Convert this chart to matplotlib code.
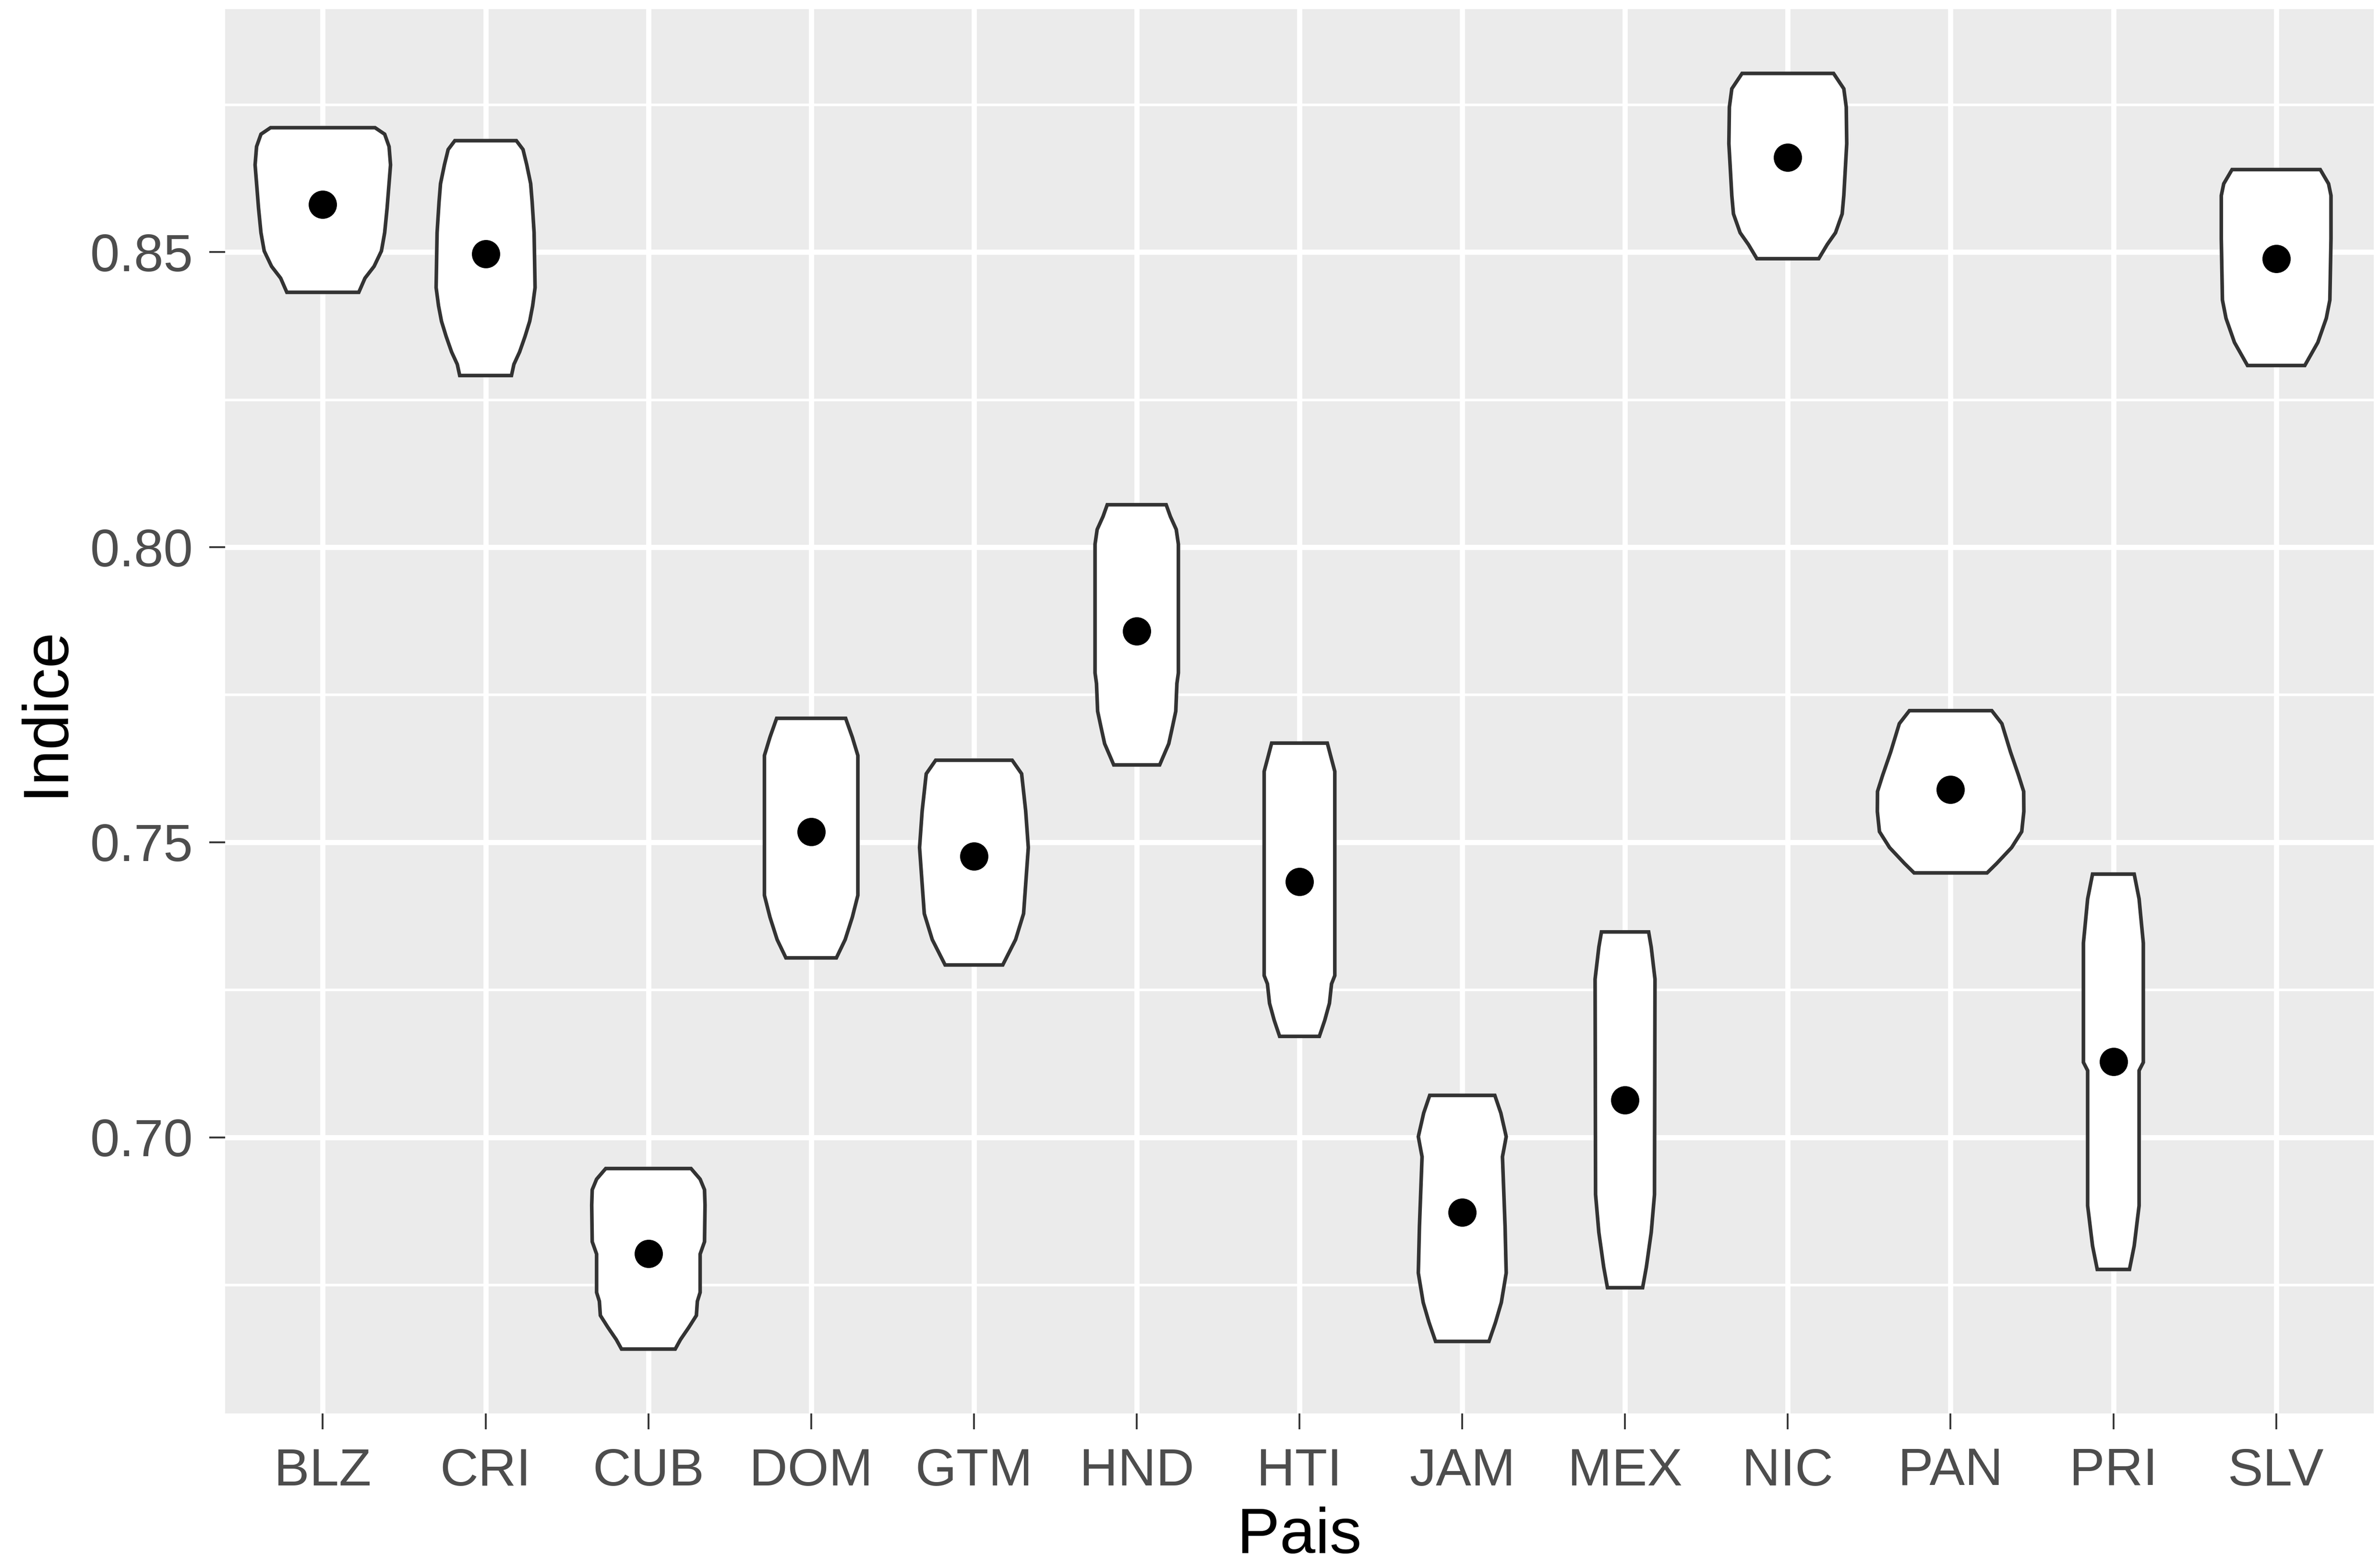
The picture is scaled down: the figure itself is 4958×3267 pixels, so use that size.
import matplotlib.pyplot as plt
from matplotlib.ticker import MultipleLocator

# Paises y valor medio del indice (punto negro)
paises = ['BLZ', 'CRI', 'CUB', 'DOM', 'GTM', 'HND', 'HTI', 'JAM', 'MEX', 'NIC', 'PAN', 'PRI', 'SLV']
medias = [0.8581, 0.8497, 0.6803, 0.7518, 0.7476, 0.7858, 0.7433, 0.6873, 0.7063, 0.8661, 0.7589, 0.7128, 0.8489]

# Contorno de cada violin: niveles del indice (de abajo hacia arriba) y semiancho en unidades de categoria
perfil_y = [
    [0.8432, 0.8456, 0.8476, 0.8502, 0.8533, 0.8575, 0.8648, 0.8679, 0.8700, 0.8711],
    [0.8291, 0.8310, 0.8331, 0.8357, 0.8383, 0.8409, 0.8440, 0.8533, 0.8585, 0.8616, 0.8648, 0.8674, 0.8689],
    [0.6641, 0.6657, 0.6678, 0.6698, 0.6722, 0.6737, 0.6802, 0.6823, 0.6885, 0.6911, 0.6929, 0.6947],
    [0.7304, 0.7335, 0.7373, 0.7410, 0.7647, 0.7678, 0.7710],
    [0.7292, 0.7335, 0.7379, 0.7429, 0.7491, 0.7553, 0.7616, 0.7639],
    [0.7631, 0.7642, 0.7667, 0.7696, 0.7722, 0.7769, 0.7787, 0.8005, 0.8030, 0.8052, 0.8072],
    [0.7171, 0.7198, 0.7227, 0.7260, 0.7274, 0.7620, 0.7647, 0.7668],
    [0.6654, 0.6686, 0.6720, 0.6770, 0.6849, 0.6967, 0.7001, 0.7041, 0.7071],
    [0.6745, 0.6780, 0.6839, 0.6903, 0.7268, 0.7322, 0.7348],
    [0.8489, 0.8513, 0.8533, 0.8565, 0.8596, 0.8684, 0.8746, 0.8777, 0.8803],
    [0.7448, 0.7464, 0.7491, 0.7518, 0.7552, 0.7586, 0.7613, 0.7653, 0.7701, 0.7723],
    [0.6776, 0.6816, 0.6884, 0.7113, 0.7127, 0.7329, 0.7404, 0.7446],
    [0.8308, 0.8347, 0.8388, 0.8419, 0.8523, 0.8596, 0.8616, 0.8640],
]
perfil_ancho = [
    [0.221, 0.259, 0.315, 0.360, 0.380, 0.395, 0.416, 0.407, 0.380, 0.321],
    [0.159, 0.174, 0.209, 0.242, 0.271, 0.289, 0.304, 0.298, 0.286, 0.277, 0.253, 0.230, 0.189],
    [0.165, 0.197, 0.249, 0.295, 0.301, 0.318, 0.318, 0.345, 0.348, 0.345, 0.318, 0.262],
    [0.155, 0.209, 0.253, 0.287, 0.287, 0.253, 0.212],
    [0.177, 0.256, 0.305, 0.318, 0.334, 0.318, 0.293, 0.235],
    [0.141, 0.158, 0.197, 0.220, 0.240, 0.247, 0.256, 0.256, 0.243, 0.207, 0.181],
    [0.122, 0.155, 0.184, 0.197, 0.217, 0.217, 0.191, 0.171],
    [0.164, 0.204, 0.240, 0.270, 0.263, 0.247, 0.270, 0.237, 0.200],
    [0.108, 0.131, 0.161, 0.181, 0.184, 0.161, 0.145],
    [0.190, 0.242, 0.293, 0.334, 0.344, 0.362, 0.359, 0.344, 0.281],
    [0.224, 0.283, 0.375, 0.437, 0.450, 0.449, 0.418, 0.368, 0.315, 0.253],
    [0.099, 0.128, 0.158, 0.158, 0.184, 0.184, 0.158, 0.128],
    [0.176, 0.256, 0.308, 0.330, 0.337, 0.337, 0.322, 0.271],
]

plt.rcParams['font.family'] = ['Liberation Sans', 'DejaVu Sans']

fig = plt.figure(figsize=(4958 / 300, 3267 / 300), dpi=300)
ax = fig.add_axes([0.0946, 0.0986, 0.9028, 0.8956])
ax.set_facecolor('#EBEBEB')

posiciones = list(range(1, len(paises) + 1))

# Violines
for i, pos in enumerate(posiciones):
    ys = perfil_y[i]
    ws = perfil_ancho[i]
    xs = [pos + w for w in ws] + [pos - w for w in reversed(ws)]
    yy = ys + list(reversed(ys))
    ax.fill(xs, yy, facecolor='white', edgecolor='#333333', linewidth=1.8, zorder=3)

# Medias
ax.scatter(posiciones, medias, s=200, color='black', zorder=4, linewidths=0)

# Ejes y cuadricula estilo ggplot
ax.set_xlim(0.4, len(paises) + 0.6)
ax.set_ylim(0.6532, 0.8912)
ax.set_xticks(posiciones)
ax.set_xticklabels(paises)
ax.yaxis.set_minor_locator(MultipleLocator(0.025))
ax.set_yticks([0.70, 0.75, 0.80, 0.85])
ax.set_yticklabels(['0.70', '0.75', '0.80', '0.85'])

ax.grid(which='major', color='white', linewidth=2.6)
ax.grid(which='minor', axis='y', color='white', linewidth=1.3)
ax.set_axisbelow(True)
for s in ax.spines.values():
    s.set_visible(False)

ax.tick_params(which='major', length=8, width=0.9, color='#333333', labelcolor='#4D4D4D',
               labelsize=26.5, pad=8)
ax.tick_params(axis='x', which='major', pad=9)
ax.tick_params(which='minor', length=0)

ax.set_xlabel('Pais', fontsize=32, labelpad=5)
ax.set_ylabel('Indice', fontsize=32, labelpad=7)

fig.savefig('out.png', dpi=300, facecolor='white')
